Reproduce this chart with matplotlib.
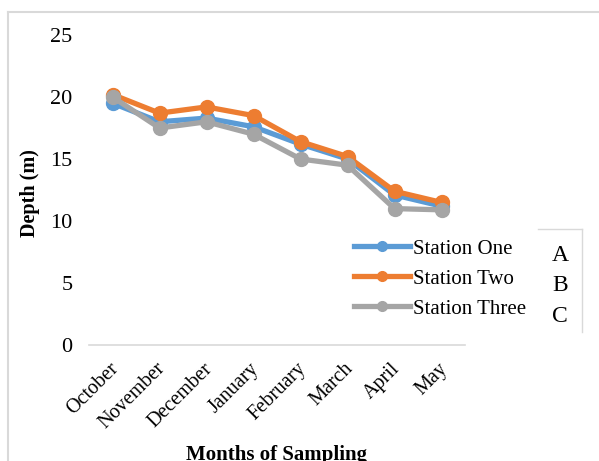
import matplotlib
matplotlib.use("Agg")
import matplotlib.pyplot as plt
from matplotlib.lines import Line2D
from matplotlib.transforms import ScaledTranslation

months = ["October", "November", "December", "January", "February", "March", "April", "May"]
station_one = [19.5, 18.0, 18.3, 17.6, 16.2, 15.0, 12.1, 11.2]
station_two = [20.2, 18.7, 19.2, 18.5, 16.4, 15.2, 12.4, 11.5]
station_three = [20.0, 17.5, 18.0, 17.0, 15.0, 14.5, 11.0, 10.9]
series_names = ["Station One", "Station Two", "Station Three"]
series_colors = ["#5b9bd5", "#ed7d31", "#a5a5a5"]
y_ticks = [0, 5, 10, 15, 20, 25]
side_letters = ["A", "B", "C"]

plt.rcParams["font.family"] = ["Liberation Serif", "DejaVu Serif"]

W, H = 599, 461
fig = plt.figure(figsize=(W / 100, H / 100), dpi=100)
ax = fig.add_axes([89 / W, 1 - 345 / H, (465 - 89) / W, (345 - 35) / H])

x = list(range(len(months)))
for vals, name, col in zip([station_one, station_two, station_three], series_names, series_colors):
    ax.plot(x, vals, color=col, lw=3.8, marker="o", markersize=10,
            solid_capstyle="round", label=name)

ax.set_xlim(-0.5, len(months) - 0.5)
ax.set_ylim(0, 25)
ax.set_yticks(y_ticks)
ax.set_xticks(x)
ax.set_xticklabels(months, rotation=45, ha="right", va="center", rotation_mode="anchor")
ax.tick_params(axis="y", length=0, labelsize=16, colors="black", pad=12)
ax.tick_params(axis="x", length=0, labelsize=14.5, colors="black", pad=15)
shift = ScaledTranslation(3 / 100, 0, fig.dpi_scale_trans)
for lbl in ax.get_xticklabels():
    lbl.set_transform(lbl.get_transform() + shift)
for s in ["top", "right", "left"]:
    ax.spines[s].set_visible(False)
ax.spines["bottom"].set_color("#d9d9d9")
ax.spines["bottom"].set_linewidth(1.2)

ax.set_xlabel("Months of Sampling", fontsize=15, fontweight="bold")
ax.set_ylabel("Depth (m)", fontsize=14.5, fontweight="bold")
ax.yaxis.set_label_coords(-0.157, 0.49)
ax.xaxis.set_label_coords((277 - 89) / 376, -(455 - 345) / 310)
ax.xaxis.label.set_va("center")
ax.yaxis.label.set_va("center")

handles = [Line2D([0], [0], color=c, lw=3.8, marker="o", markersize=7) for c in series_colors]
fig.legend(handles, series_names, loc="upper left",
           bbox_to_anchor=(352 / W, 1 - 237 / H), frameon=False, fontsize=15,
           handlelength=2.7, handletextpad=0.15, labelspacing=0.5, borderpad=0.1,
           borderaxespad=0)

for i, letter in enumerate(side_letters):
    fig.text(560 / W, 1 - (255 + 30.5 * i) / H, letter, fontsize=17,
             ha="center", va="center")

frame_col = "#d9d9d9"
fig.add_artist(Line2D([538 / W, 582 / W], [1 - 229 / H, 1 - 229 / H], color=frame_col, lw=1))
fig.add_artist(Line2D([582 / W, 582 / W], [1 - 229 / H, 1 - 332 / H], color=frame_col, lw=1))
fig.add_artist(Line2D([8 / W, 1.0], [1 - 12 / H, 1 - 12 / H], color=frame_col, lw=1.5))
fig.add_artist(Line2D([8 / W, 8 / W], [1 - 12 / H, 0.0], color=frame_col, lw=1.5))

fig.savefig("out.png", dpi=100)
